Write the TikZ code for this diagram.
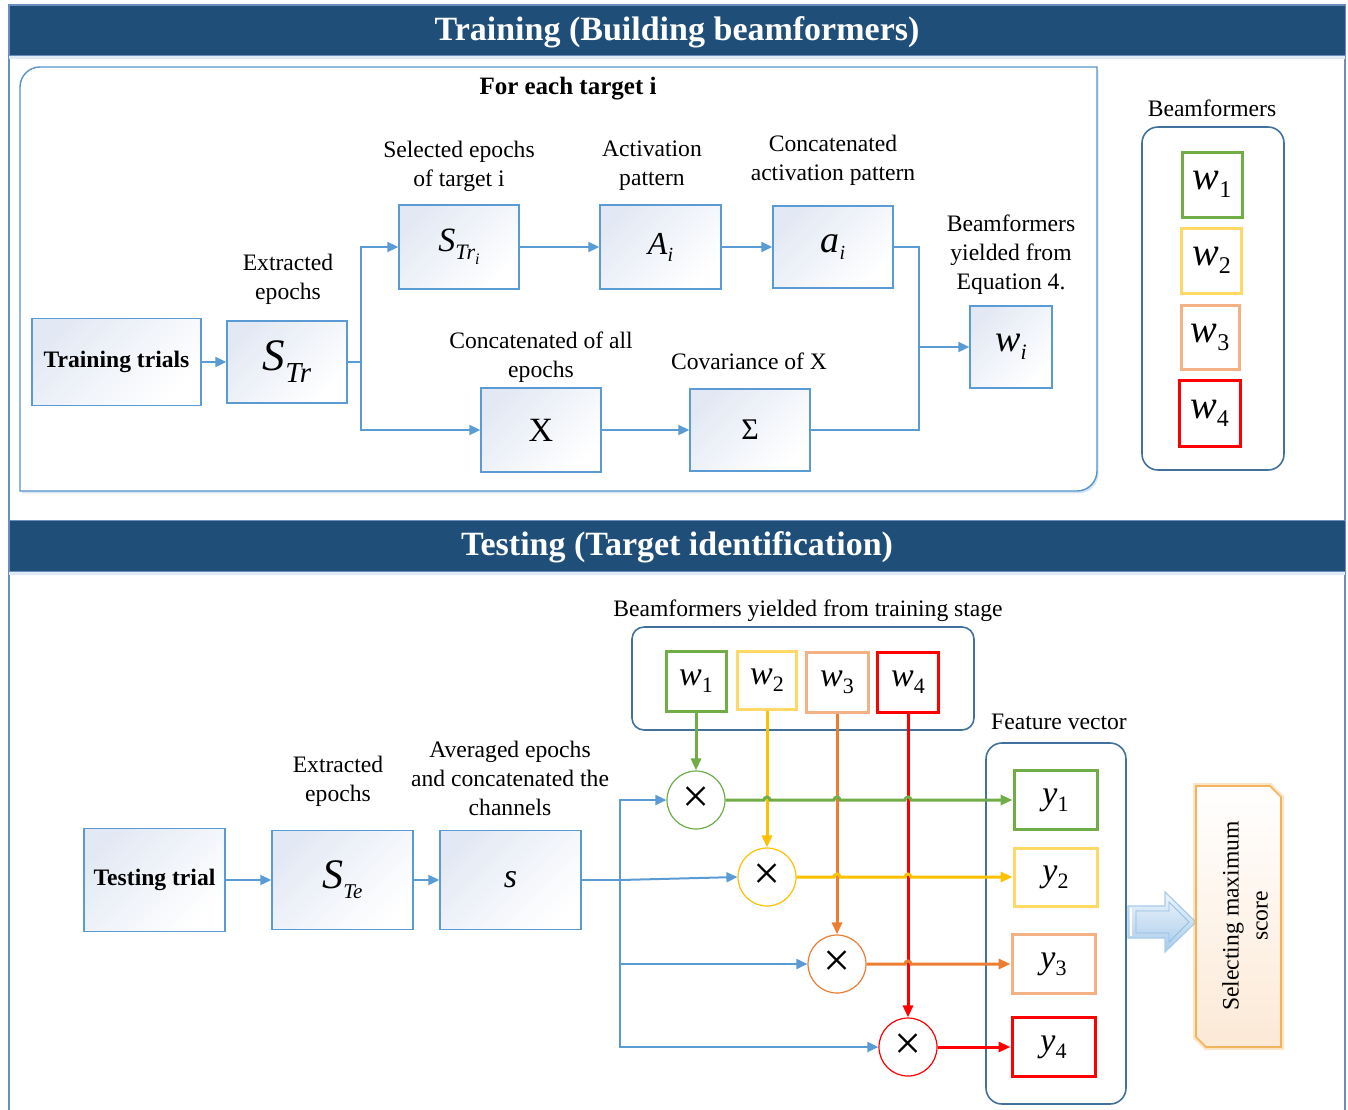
\documentclass[tikz,border=0pt]{standalone}
\usepackage{fontspec}
\setmainfont{Liberation Serif}
\usetikzlibrary{arrows.meta,calc,shadows}

\definecolor{hdr}{HTML}{1F4E79}
\definecolor{acc}{HTML}{5B9BD5}
\definecolor{frm}{HTML}{41719C}
\definecolor{outer}{HTML}{6C8EBF}
\definecolor{boxtint}{HTML}{E3E9F4}
\definecolor{gr}{HTML}{70AD47}
\definecolor{ylbox}{HTML}{FFD966}
\definecolor{yl}{HTML}{FFC000}
\definecolor{sal}{HTML}{F4B183}
\definecolor{org}{HTML}{ED7D31}
\definecolor{rd}{HTML}{FF0000}
\definecolor{selline}{HTML}{F2B45C}
\definecolor{selfill}{HTML}{FCE9D6}
\definecolor{arrlight}{HTML}{EEF5FC}
\definecolor{arrdark}{HTML}{A9CBEA}

% symbol with a lowered index: size, symbol, index size, drop, index
\newcommand\msym[5]{{\fontsize{#1}{#1}\selectfont #2}\raisebox{#4}{\fontsize{#3}{#3}\selectfont #5}}
\newcommand\txtsize{\fontsize{11.8pt}{14.5pt}\selectfont}

\begin{document}
\begin{tikzpicture}[x=0.5pt, y=-0.5pt,
  box/.style={draw=acc, line width=0.7pt, top color=boxtint, middle color=white,
    bottom color=white, shading angle=45, inner sep=0pt},
  lbl/.style={font=\txtsize, align=center, inner sep=0pt, yshift=-1.5pt},
  bl/.style={draw=acc, line width=1pt},
  arr/.style={bl, -{Triangle[length=5.5pt,width=5pt]}},
  wbox/.style={draw=#1, line width=1.5pt, fill=white, inner sep=0pt},
  mul/.style={circle, draw=#1, line width=0.6pt, fill=white, minimum size=29pt,
    inner sep=0pt, font=\fontsize{24pt}{24pt}\selectfont},
  cl/.style={draw=#1, line width=1.5pt},
  carr/.style={cl=#1, -{Triangle[length=6pt,width=5pt]}},
  cont/.style={draw=frm, line width=0.8pt, rounded corners=8pt},
  hdrtext/.style={font=\fontsize{17pt}{17pt}\selectfont\bfseries, text=white}
]
\useasboundingbox (0,0) rectangle (1348,1109);

% page frame and section headers
\draw[outer, line width=0.6pt] (9,5) rectangle (1345,1120);
\fill[acc!20] (9,55) rectangle (1345,59);
\fill[acc!20] (9,571) rectangle (1345,575);
\draw[fill=hdr, draw=outer, line width=0.5pt] (9,5) rectangle (1345,55);
\draw[fill=hdr, draw=outer, line width=0.5pt] (9,520) rectangle (1345,571);
\node[hdrtext] (h1) at (677,32) {Training (Building beamformers)};
\node[hdrtext] (h2) at (677,547) {Testing (Target identification)};

% ---------------- training ----------------
\draw[draw=acc!80!frm, line width=0.7pt, fill=white,
  drop shadow={shadow xshift=0.8pt, shadow yshift=-1.2pt, fill=acc, opacity=0.25}]
  (20,491) -- (20,87) arc[start angle=180, end angle=90, radius=10pt]
  -- (1097,67) -- (1097,471) arc[start angle=0, end angle=-90, radius=10pt] -- cycle;
\node[font=\fontsize{12.5pt}{14pt}\selectfont\bfseries] (fe) at (568,89) {For each target i};

\node[box, minimum width=84.5pt, minimum height=43.5pt,
  font=\fontsize{11.8pt}{14pt}\selectfont\bfseries] (trainT) at (116.5,362) {Training trials};
\node[box, minimum width=60pt, minimum height=41pt] (str) at (287,362)
  {\msym{22.5pt}{\itshape S}{14.5pt}{-6pt}{\itshape Tr}};
\node[box, minimum width=60pt, minimum height=42pt] (stri) at (459,247)
  {\msym{17pt}{\itshape S}{11pt}{-4pt}{\itshape Tr\raisebox{-2.5pt}{\fontsize{8pt}{8pt}\selectfont i}}};
\node[box, minimum width=60.5pt, minimum height=42pt] (Ai) at (660.5,247)
  {\msym{16pt}{\itshape A}{10pt}{-3.5pt}{\itshape i}};
\node[box, minimum width=60pt, minimum height=41pt] (ai) at (833,247)
  {\msym{19pt}{\itshape a}{10pt}{-3.5pt}{\itshape i}};
\node[box, minimum width=41pt, minimum height=41pt] (wi) at (1011,347)
  {\msym{19pt}{\itshape w}{11pt}{-4pt}{\itshape i}};
\node[box, minimum width=60pt, minimum height=42pt] (X) at (541,430)
  {\fontsize{17pt}{17pt}\selectfont X};
\node[box, minimum width=60pt, minimum height=41pt] (Sig) at (750,430)
  {\fontsize{15pt}{15pt}\selectfont Σ};

\node[lbl] (lstr) at (288,276.5) {Extracted\\epochs};
\node[lbl] (lstri) at (459,163) {Selected epochs\\of target i};
\node[lbl] (lAi) at (652,163) {Activation\\pattern};
\node[lbl] (lai) at (833,157.5) {Concatenated\\activation pattern};
\node[lbl] (lwi) at (1011,252) {Beamformers\\yielded from\\Equation 4.};
\node[lbl] (lX) at (541,354.5) {Concatenated of all\\epochs};
\node[lbl] (lSig) at (749,358) {Covariance of X};

\coordinate (tb) at (361,362);
\coordinate (rb) at (919,347);
\draw[arr] (trainT.east) -- (str.west);
\draw[bl] (str.east) -- (tb);
\draw[arr] (tb) |- (stri.west);
\draw[arr] (tb) |- (X.west);
\draw[arr] (stri.east) -- (Ai.west);
\draw[arr] (Ai.east) -- (ai.west);
\draw[arr] (X.east) -- (Sig.west);
\draw[bl] (ai.east) -| (rb);
\draw[bl] (Sig.east) -| (rb);
\draw[arr] (rb) -- (wi.west);

% beamformer set
\node[lbl] (lbf) at (1212,105) {Beamformers};
\draw[cont] (1142,127) rectangle (1284,470);
\node[wbox=gr, minimum width=30pt, minimum height=32.5pt] (bw1) at (1212,184.5)
  {\msym{20pt}{\itshape w}{12pt}{-4pt}{1}};
\node[wbox=ylbox, minimum width=30pt, minimum height=32.5pt] (bw2) at (1211.5,260.5)
  {\msym{20pt}{\itshape w}{12pt}{-4pt}{2}};
\node[wbox=sal, minimum width=29pt, minimum height=32pt] (bw3) at (1210,337)
  {\msym{20pt}{\itshape w}{12pt}{-4pt}{3}};
\node[wbox=rd, minimum width=30.5pt, minimum height=33pt] (bw4) at (1209.5,413)
  {\msym{20pt}{\itshape w}{12pt}{-4pt}{4}};

% ---------------- testing ----------------
\node[box, minimum width=70.5pt, minimum height=51.5pt,
  font=\fontsize{11.8pt}{14pt}\selectfont\bfseries] (testT) at (154.5,880) {Testing trial};
\node[box, minimum width=70.5pt, minimum height=49.5pt] (ste) at (342.5,880)
  {\msym{21pt}{\itshape S}{10.5pt}{-5pt}{\itshape Te}};
\node[box, minimum width=70.5pt, minimum height=49.5pt] (sbox) at (510.5,880)
  {\fontsize{17pt}{17pt}\selectfont\itshape s};

\node[lbl] (lste) at (338,778.5) {Extracted\\epochs};
\node[lbl] (lsbox) at (510,775) {Averaged epochs\\and concatenated the\\channels};
\node[lbl] (ltw) at (808,608) {Beamformers yielded from training stage};
\node[lbl] (lfv) at (1059,719) {Feature vector};

\draw[arr] (testT.east) -- (ste.west);
\draw[arr] (ste.east) -- (sbox.west);

\draw[cont, rounded corners=6pt] (632,627) rectangle (974,730);
\node[wbox=gr, minimum width=30pt, minimum height=30pt] (tw1) at (696,681)
  {\msym{17pt}{\itshape w}{11pt}{-3.5pt}{1}};
\node[wbox=ylbox, minimum width=29.5pt, minimum height=29pt] (tw2) at (767,680)
  {\msym{17pt}{\itshape w}{11pt}{-3.5pt}{2}};
\node[wbox=sal, minimum width=31pt, minimum height=30pt] (tw3) at (837,682)
  {\msym{17pt}{\itshape w}{11pt}{-3.5pt}{3}};
\node[wbox=rd, minimum width=30.5pt, minimum height=30pt] (tw4) at (908,682)
  {\msym{17pt}{\itshape w}{11pt}{-3.5pt}{4}};

\draw[cont] (986,743) rectangle (1126,1104);
\node[wbox=gr, minimum width=41.5pt, minimum height=29.5pt] (y1) at (1055.5,800)
  {\msym{17pt}{\itshape y}{11pt}{-3.5pt}{1}};
\node[wbox=ylbox, minimum width=41.5pt, minimum height=29pt] (y2) at (1055.5,877)
  {\msym{17pt}{\itshape y}{11pt}{-3.5pt}{2}};
\node[wbox=sal, minimum width=41.5pt, minimum height=29.5pt] (y3) at (1053.5,964)
  {\msym{17pt}{\itshape y}{11pt}{-3.5pt}{3}};
\node[wbox=rd, minimum width=41.5pt, minimum height=29.5pt] (y4) at (1053.5,1047)
  {\msym{17pt}{\itshape y}{11pt}{-3.5pt}{4}};

% multipliers
\node[mul=gr] (c1) at (696,800) {×};
\node[mul=yl] (c2) at (767,877) {×};
\node[mul=org] (c3) at (837,964) {×};
\node[mul=rd] (c4) at (908,1047) {×};

% signal fan-out
\coordinate (bx) at (620,880);
\draw[bl] (sbox.east) -- (bx);
\draw[arr] (bx) -- (c2.west);
\draw[arr] (bx) |- (c1.west);
\draw[arr] (bx) |- (c3.west);
\draw[arr] (bx) |- (c4.west);

% beamformer weights down to the multipliers
\draw[carr=gr] (tw1.south) -- (c1.north);
\draw[carr=yl] (tw2.south) -- (c2.north);
\draw[carr=org] (tw3.south) -- (c3.north);
\draw[carr=rd] (tw4.south) -- (c4.north);

% products to the feature vector, hopping over the weight lines
\draw[carr=gr] (c1.east)
  -- ($(c1.east -| tw2.south)+(-3,0)$) arc[start angle=180, end angle=0, radius=1.5pt]
  -- ($(c1.east -| tw3.south)+(-3,0)$) arc[start angle=180, end angle=0, radius=1.5pt]
  -- ($(c1.east -| tw4.south)+(-3,0)$) arc[start angle=180, end angle=0, radius=1.5pt]
  -- (y1.west);
\draw[carr=yl] (c2.east)
  -- ($(c2.east -| tw3.south)+(-3,0)$) arc[start angle=180, end angle=0, radius=1.5pt]
  -- ($(c2.east -| tw4.south)+(-3,0)$) arc[start angle=180, end angle=0, radius=1.5pt]
  -- (y2.west);
\draw[carr=org] (c3.east)
  -- ($(c3.east -| tw4.south)+(-3,0)$) arc[start angle=180, end angle=0, radius=1.5pt]
  -- (y3.west);
\draw[carr=rd] (c4.east) -- (y4.west);

% block arrow to the decision box
\draw[draw=arrdark, line width=0.6pt, top color=arrlight, bottom color=arrdark]
  (1128,906) -- (1165,906) -- (1165,892) -- (1196,922) -- (1165,952)
  -- (1165,938) -- (1128,938) -- cycle;
\draw[draw=arrdark!70!acc, line width=0.4pt]
  (1136,911) -- (1169,911) -- (1169,902) -- (1189,922) -- (1169,942)
  -- (1169,933) -- (1136,933) -- cycle;
\draw[white, line width=0.8pt] (1131,908) -- (1131,936);

% decision box
\draw[selline, line width=3pt, opacity=0.35]
  (1196,786) -- (1270,786) -- (1281,797) -- (1281,1047) -- (1206,1047) -- (1196,1037) -- cycle;
\draw[draw=selline, line width=0.8pt, top color=white, bottom color=selfill]
  (1196,786) -- (1270,786) -- (1281,797) -- (1281,1047) -- (1206,1047) -- (1196,1037) -- cycle;
\node[lbl, rotate=90] (sel) at (1245,913) {Selecting maximum\\score};

\end{tikzpicture}
\end{document}
